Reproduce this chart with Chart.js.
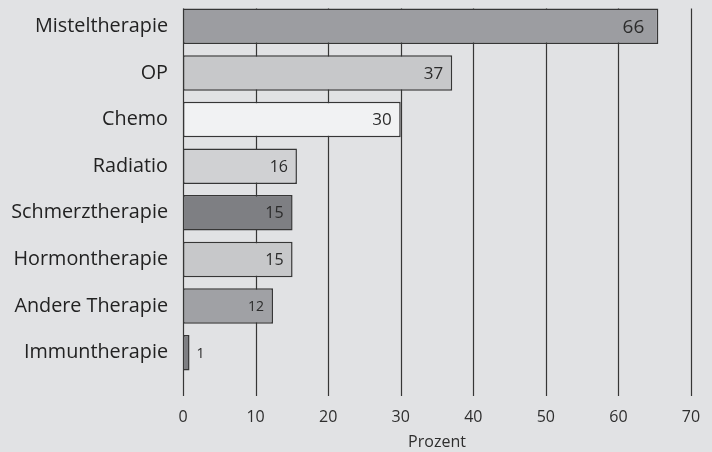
<!DOCTYPE html>
<html>
<head>
<meta charset="utf-8">
<script src="https://cdn.jsdelivr.net/npm/chart.js@4"></script>
<style>
  html, body { margin: 0; padding: 0; background: #e1e2e4; }
  #wrap { width: 712px; height: 452px; }
</style>
</head>
<body>
<div id="wrap"><canvas id="chart" width="712" height="452"></canvas></div>
<script>
/* ── DATA ───────────────────────────────────────────── */
const therapies = ['Misteltherapie', 'OP', 'Chemo', 'Radiatio', 'Schmerztherapie',
                   'Hormontherapie', 'Andere Therapie', 'Immuntherapie'];
const percent   = [65.5, 37.1, 30, 15.7, 15.1, 15.1, 12.4, 0.9];
const barColors = ['#9c9da1', '#c7c8ca', '#f1f2f3', '#d0d1d3', '#7e7f83',
                   '#c7c8ca', '#a0a1a5', '#7e7f83'];
const xTicks    = [0, 10, 20, 30, 40, 50, 60, 70];

const LINE = '#363636';
const FONT = "'Open Sans', sans-serif";

/* Vertical grid lines run from the first bar top down below the plot */
const gridPlugin = {
  id: 'gridLines',
  beforeDatasetsDraw(chart) {
    const { ctx, chartArea, scales } = chart;
    const first = chart.getDatasetMeta(0).data[0];
    const top = first.y - first.height / 2;
    const bottom = chartArea.bottom + 20;
    ctx.save();
    ctx.strokeStyle = LINE;
    ctx.lineWidth = 1.2;
    xTicks.forEach(v => {
      const x = Math.round(scales.x.getPixelForValue(v)) + 0.5;
      ctx.beginPath();
      ctx.moveTo(x, top);
      ctx.lineTo(x, bottom);
      ctx.stroke();
    });
    ctx.restore();
  }
};

/* Value labels at the end of each bar */
const valuePlugin = {
  id: 'valueLabels',
  afterDatasetsDraw(chart) {
    const { ctx } = chart;
    const meta = chart.getDatasetMeta(0);
    ctx.save();
    ctx.fillStyle = '#2b2b2b';
    ctx.textBaseline = 'middle';
    meta.data.forEach((el, i) => {
      const v = percent[i];
      const size = v >= 60 ? 19 : v >= 30 ? 17 : v >= 15 ? 16 : 14;
      ctx.font = size + 'px ' + FONT;
      const txt = String(Math.round(v));
      if (el.x - el.base > 30) {
        ctx.textAlign = 'right';
        ctx.fillText(txt, el.x - (v >= 60 ? 14 : 9), el.y + 1);
      } else {
        ctx.textAlign = 'left';
        ctx.fillText(txt, el.x + 7, el.y + 1);
      }
    });
    ctx.restore();
  }
};

/* Keep the plot box fixed: no extra room for overhanging tick labels */
function noPad(s) {
  s.paddingTop = s.paddingBottom = s.paddingLeft = s.paddingRight = 0;
}

new Chart(document.getElementById('chart'), {
  type: 'bar',
  data: {
    labels: therapies,
    datasets: [{
      data: percent,
      backgroundColor: barColors,
      borderColor: LINE,
      borderWidth: 1.5,
      borderSkipped: false,
      barPercentage: 0.76,
      categoryPercentage: 1,
    }],
  },
  options: {
    indexAxis: 'y',
    responsive: false,
    animation: false,
    layout: { padding: { top: 3, right: 21, left: 0, bottom: 0 } },
    plugins: { legend: { display: false }, tooltip: { enabled: false } },
    scales: {
      x: {
        min: 0,
        max: 70,
        afterBuildTicks: s => { s.ticks = xTicks.map(v => ({ value: v })); },
        afterFit: s => { s.height = 76; noPad(s); },
        grid: { display: false, drawTicks: false },
        border: { display: false },
        ticks: { padding: 32, color: '#2e2e2e', font: { family: FONT, size: 16 } },
        title: {
          display: true,
          text: 'Prozent',
          color: '#2e2e2e',
          padding: { top: 0, bottom: 0 },
          font: { family: FONT, size: 16 },
        },
      },
      y: {
        afterFit: s => { s.width = 183; noPad(s); },
        grid: { display: false, drawTicks: false },
        border: { display: false },
        ticks: { padding: 15, color: '#222', font: { family: FONT, size: 19.8 } },
      },
    },
  },
  plugins: [gridPlugin, valuePlugin],
});
</script>
</body>
</html>
